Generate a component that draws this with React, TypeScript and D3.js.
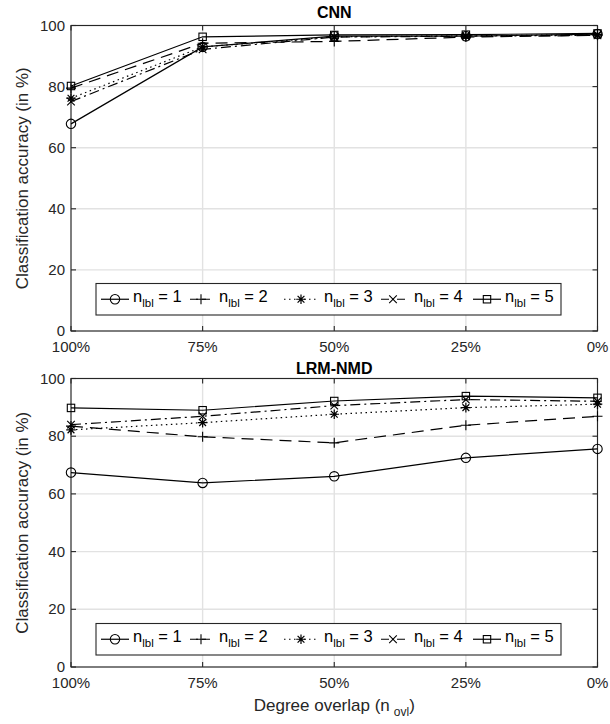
import React from "react";
import * as d3 from "d3";

const categories = ["100%", "75%", "50%", "25%", "0%"];
const yTicks = [0, 20, 40, 60, 80, 100];
const seriesNames = ["1", "2", "3", "4", "5"];

const cnn1 = [67.8, 93.0, 96.5, 96.5, 97.2];
const cnn2 = [79.5, 94.2, 94.8, 96.2, 96.8];
const cnn3 = [76.2, 93.0, 96.3, 96.6, 97.0];
const cnn4 = [75.1, 92.2, 96.2, 96.5, 96.8];
const cnn5 = [80.2, 96.3, 96.9, 97.0, 97.4];

const lrm1 = [67.4, 63.8, 66.1, 72.5, 75.6];
const lrm2 = [83.5, 79.8, 77.7, 83.8, 86.9];
const lrm3 = [82.2, 84.7, 87.6, 89.9, 91.1];
const lrm4 = [84.0, 86.9, 90.6, 92.7, 92.1];
const lrm5 = [89.8, 89.0, 92.2, 93.9, 93.3];

const markers = ["circle", "plus", "star", "x", "square"];
const dashes = [null, "12,7", "1.5,3.5", "10,4,2,4", null];
const legendDashes = [null, "8,4", "1.5,3.5", "8,3,2,3", null];

const FONT = "'Liberation Sans', Arial, Helvetica, sans-serif";
const INK = "#262626";

function Marker({ type, x, y }: { type: string; x: number; y: number }) {
  const s = { fill: "none", stroke: "#000", strokeWidth: 1.1 };
  if (type === "circle") return <circle cx={x} cy={y} r={4.7} {...s} />;
  if (type === "square") return <rect x={x - 3.7} y={y - 3.7} width={7.4} height={7.4} {...s} />;
  if (type === "plus")
    return <path d={`M${x - 5},${y}H${x + 5}M${x},${y - 5}V${y + 5}`} {...s} />;
  if (type === "x")
    return <path d={`M${x - 3.8},${y - 3.8}L${x + 3.8},${y + 3.8}M${x - 3.8},${y + 3.8}L${x + 3.8},${y - 3.8}`} {...s} />;
  return (
    <path
      d={`M${x - 4.8},${y}H${x + 4.8}M${x},${y - 4.8}V${y + 4.8}M${x - 3.4},${y - 3.4}L${x + 3.4},${y + 3.4}M${x - 3.4},${y + 3.4}L${x + 3.4},${y - 3.4}`}
      {...s}
      strokeWidth={1.2}
    />
  );
}

function Panel({
  title,
  data,
  top,
  bottom,
  titleY,
  legendTop,
  xLabel,
}: {
  title: string;
  data: number[][];
  top: number;
  bottom: number;
  titleY: number;
  legendTop: number;
  xLabel: boolean;
}) {
  const left = 71;
  const right = 597.5;
  const x = d3.scalePoint<string>().domain(categories).range([left, right]);
  const y = d3.scaleLinear().domain([0, 100]).range([bottom, top]);
  const line = d3
    .line<number>()
    .x((_, i) => x(categories[i]) as number)
    .y((d) => y(d));

  const legMarkX = [115, 201, 301, 393, 487];
  const legLineHalf = [14, 11, 17, 12, 14];
  const legTextX = [133, 219, 324, 414, 505];
  const legH = 31.5;
  const legCy = legendTop + legH / 2;

  return (
    <g>
      {categories.map((c) => (
        <line key={"gx" + c} x1={x(c)} x2={x(c)} y1={top} y2={bottom} stroke="#e2e2e2" strokeWidth={1.4} />
      ))}
      {yTicks.map((t) => (
        <line key={"gy" + t} x1={left} x2={right} y1={y(t)} y2={y(t)} stroke="#e2e2e2" strokeWidth={1.4} />
      ))}
      <rect x={left} y={top} width={right - left} height={bottom - top} fill="none" stroke={INK} strokeWidth={1.1} />
      {categories.map((c) => (
        <g key={"tx" + c}>
          <line x1={x(c)} x2={x(c)} y1={bottom} y2={bottom - 5} stroke={INK} strokeWidth={1.1} />
          <line x1={x(c)} x2={x(c)} y1={top} y2={top + 5} stroke={INK} strokeWidth={1.1} />
          <text x={x(c)} y={bottom + 21} textAnchor="middle" fontSize={15} fontFamily={FONT} fill={INK}>
            {c}
          </text>
        </g>
      ))}
      {yTicks.map((t) => (
        <g key={"ty" + t}>
          <line x1={left} x2={left + 5} y1={y(t)} y2={y(t)} stroke={INK} strokeWidth={1.1} />
          <line x1={right} x2={right - 5} y1={y(t)} y2={y(t)} stroke={INK} strokeWidth={1.1} />
          <text x={left - 6} y={y(t) + 5} textAnchor="end" fontSize={15} fontFamily={FONT} fill={INK}>
            {t}
          </text>
        </g>
      ))}
      <text x={(left + right) / 2} y={titleY} textAnchor="middle" fontSize={16} fontWeight="bold" fontFamily={FONT} fill="#000">
        {title}
      </text>
      <text
        transform={`translate(${28},${(top + bottom) / 2}) rotate(-90)`}
        textAnchor="middle"
        fontSize={17}
        fontFamily={FONT}
        fill={INK}
      >
        Classification accuracy (in %)
      </text>
      {data.map((vals, si) => (
        <g key={"s" + si}>
          <path
            d={line(vals) || ""}
            fill="none"
            stroke="#000"
            strokeWidth={1.2}
            strokeDasharray={dashes[si] || undefined}
          />
          {vals.map((v, i) => (
            <Marker key={i} type={markers[si]} x={x(categories[i]) as number} y={y(v)} />
          ))}
        </g>
      ))}
      <rect x={96} y={legendTop} width={465} height={legH} fill="#fff" stroke={INK} strokeWidth={1.1} />
      {seriesNames.map((n, si) => (
        <g key={"l" + si}>
          <line
            x1={legMarkX[si] - legLineHalf[si]}
            x2={legMarkX[si] + legLineHalf[si]}
            y1={legCy}
            y2={legCy}
            stroke="#000"
            strokeWidth={1.2}
            strokeDasharray={legendDashes[si] || undefined}
          />
          <Marker type={markers[si]} x={legMarkX[si]} y={legCy} />
          <text x={legTextX[si]} y={legCy + 3} fontSize={16.5} fontFamily={FONT} fill="#000">
            n
            <tspan fontSize={11.5} dy={5}>
              lbl
            </tspan>
            <tspan dy={-5}>{` = ${n}`}</tspan>
          </text>
        </g>
      ))}
      {xLabel && (
        <text x={(left + right) / 2} y={bottom + 44} textAnchor="middle" fontSize={17} fontFamily={FONT} fill={INK}>
          Degree overlap (n
          <tspan fontSize={12} dy={5} dx={4}>
            ovl
          </tspan>
          <tspan dy={-5}>)</tspan>
        </text>
      )}
    </g>
  );
}

export default function App() {
  const cnn = [cnn1, cnn2, cnn3, cnn4, cnn5];
  const lrm = [lrm1, lrm2, lrm3, lrm4, lrm5];
  return (
    <svg
      width={610}
      height={724}
      style={{ position: "absolute", left: 0, top: 0, background: "#fff" }}
      xmlns="http://www.w3.org/2000/svg"
    >
      <rect width={610} height={724} fill="#fff" />
      <Panel title="CNN" data={cnn} top={25.5} bottom={331} titleY={18} legendTop={283.5} xLabel={false} />
      <Panel title="LRM-NMD" data={lrm} top={378.5} bottom={667} titleY={374} legendTop={623.5} xLabel={true} />
    </svg>
  );
}
